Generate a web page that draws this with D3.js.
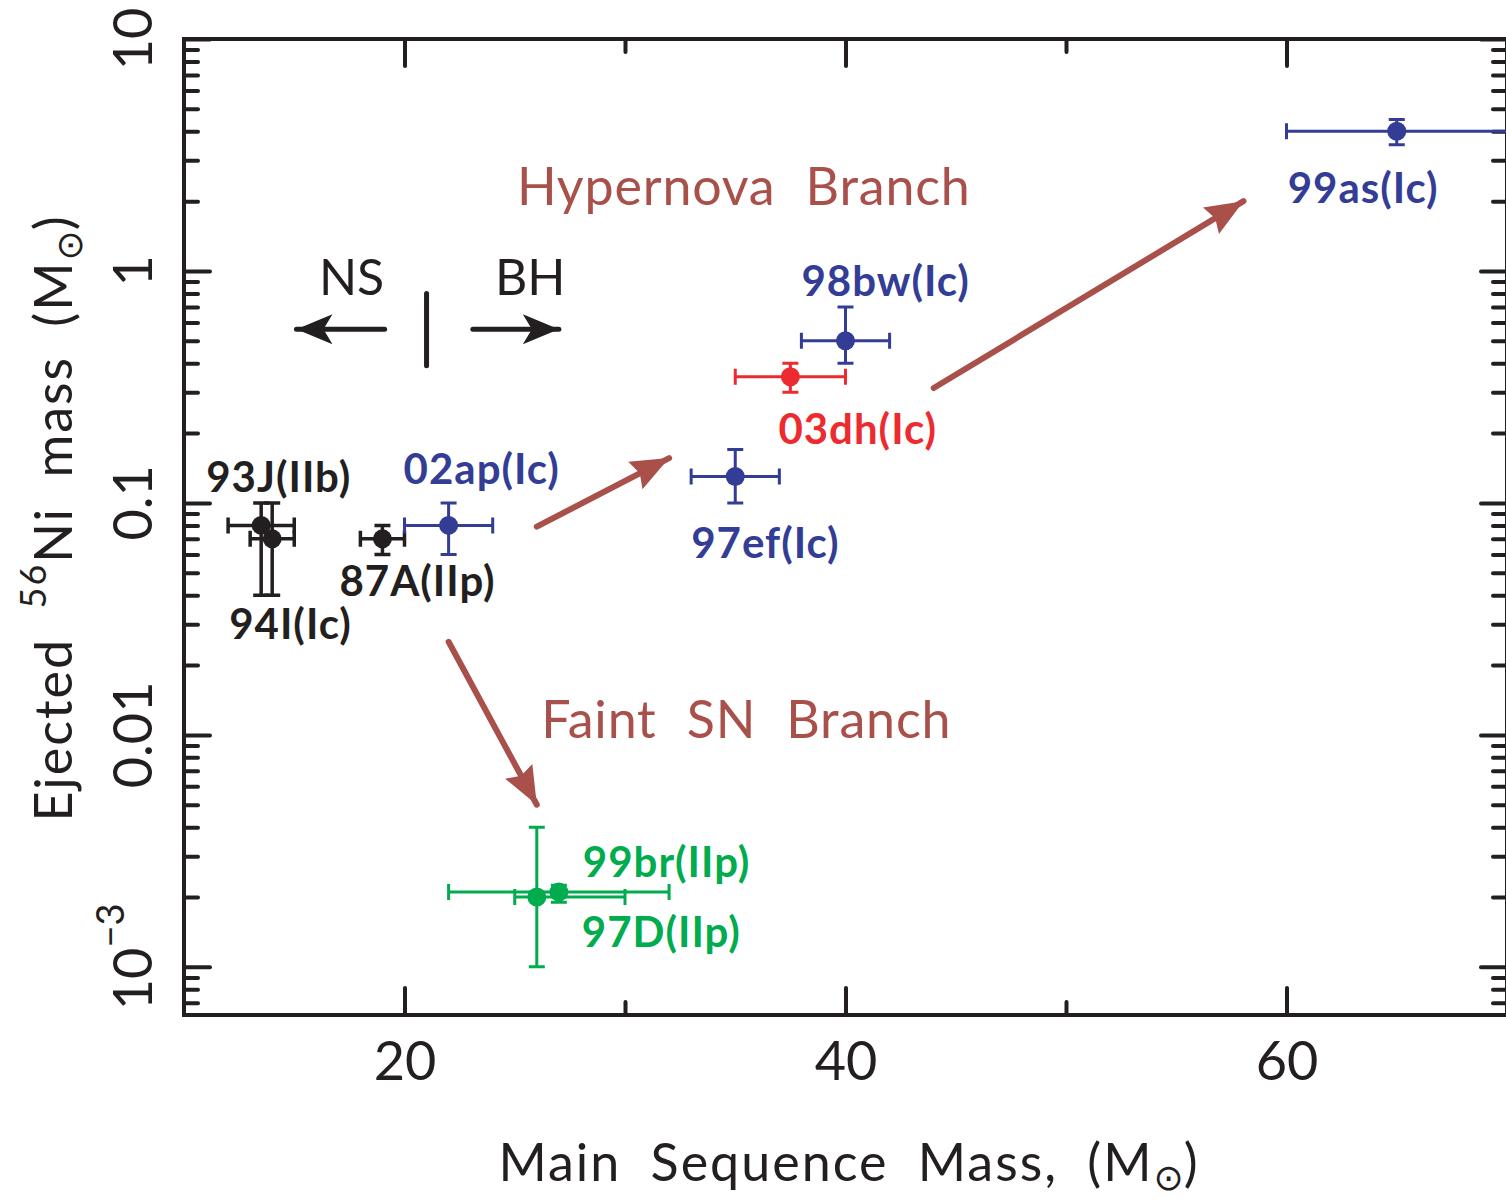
<!DOCTYPE html>
<html>
<head>
<meta charset="utf-8">
<script src="https://cdn.jsdelivr.net/npm/d3@7"></script>
<style>
  body { margin: 0; background: #fff; }
  svg { display: block; font-family: Lato, "DejaVu Sans", sans-serif; }
</style>
</head>
<body>
<svg width="1506" height="1201"></svg>
<script>
// supernova data
const names  = ["93J(IIb)", "94I(Ic)", "87A(IIp)", "02ap(Ic)", "97ef(Ic)", "03dh(Ic)", "98bw(Ic)", "99as(Ic)", "97D(IIp)", "99br(IIp)"];
const groups = ["normal", "normal", "normal", "hyper", "hyper", "dh", "hyper", "hyper", "faint", "faint"];
const mass   = [13.5, 14, 19, 22, 35, 37.5, 40, 65, 26, 27];
const massLo = [12, 13, 18, 20, 33, 35, 38, 60, 25, 22];
const massHi = [15, 15, 20, 24, 37, 40, 42, 75, 30, 32];
const ni     = [0.08, 0.07, 0.07, 0.08, 0.13, 0.35, 0.5, 4, 0.002, 0.0021];
const niLo   = [0.04, 0.04, 0.06, 0.06, 0.1, 0.3, 0.4, 3.5, 0.001, 0.0019];
const niHi   = [0.1, 0.1, 0.08, 0.1, 0.17, 0.4, 0.7, 4.5, 0.004, 0.00225];

// axis ticks
const xMajor = [20, 40, 60];
const xMinor = [30, 50, 70];
const yMajor = [10, 1, 0.1, 0.01, 0.001];
const yLabels = ["10", "1", "0.1", "0.01"];

// annotations (data coordinates)
const branchArrows = [[[26, 0.079], [32, 0.156]], [[44, 0.313], [58.05, 2.0]], [[22, 0.0252], [26, 0.005]]];
const branchText = [["Hypernova Branch", 25.1, 1.92], ["Faint SN Branch", 26.2, 0.0097]];
const nsbhDivide = [21, 0.39, 0.8];
const nsbhArrows = [[[19.1, 0.56], [15.1, 0.56]], [[23.1, 0.56], [27.0, 0.56]]];
const nsbhText = [["NS", 17.6, 0.79], ["BH", 25.7, 0.79]];

// label offsets in px from each point (start, baseline)
const labelOffset = {
    "93J(IIb)": [-55, -33], "94I(Ic)": [-43, 100], "87A(IIp)": [-43, 57], "02ap(Ic)": [-45, -41],
    "97ef(Ic)": [-44, 82], "03dh(Ic)": [-12, 67], "98bw(Ic)": [-44, -45], "99as(Ic)": [-109, 72],
    "97D(IIp)": [45, 50], "99br(IIp)": [24, -15]
};

const ink = "#231f20";
const branchColor = "#a9504b";
let color = d3.scaleOrdinal()
    .domain(["normal", "hyper", "dh", "faint"])
    .range([ink, "#333d96", "#ec2a2f", "#00ac4e"]);

let svg = d3.select("svg");
let pLeft = 184, pRight = 1507, pTop = 39, pBottom = 1015;

let x = d3.scaleLinear().domain([10, 70]).range([pLeft, pRight]);
let y = d3.scaleLog().domain([6.2e-4, 10]).range([pBottom, pTop]);

let yMinor = [];
[0.0001, 0.001, 0.01, 0.1, 1].forEach(dec => {
    for (let k = 2; k <= 9; k++) {
        let v = dec * k;
        if (v >= 6.2e-4 && v <= 10) yMinor.push(v);
    }
});

// ticks
const styleAxis = g => {
    g.select(".domain").remove();
    g.selectAll("line").attr("stroke", ink).attr("stroke-width", 4).attr("stroke-linecap", "round");
};
svg.append("g").attr("transform", "translate(0," + pBottom + ")")
    .call(d3.axisBottom(x).tickValues(xMajor).tickSize(-27).tickPadding(27).tickFormat(d3.format("d")))
    .call(styleAxis)
    .selectAll("text").attr("font-size", 54).attr("fill", ink).attr("font-family", "Lato");
svg.append("g").attr("transform", "translate(0," + pBottom + ")")
    .call(d3.axisBottom(x).tickValues(xMinor).tickSize(-13).tickFormat(""))
    .call(styleAxis);
svg.append("g").attr("transform", "translate(0," + pTop + ")")
    .call(d3.axisTop(x).tickValues(xMajor).tickSize(-27).tickFormat(""))
    .call(styleAxis);
svg.append("g").attr("transform", "translate(0," + pTop + ")")
    .call(d3.axisTop(x).tickValues(xMinor).tickSize(-13).tickFormat(""))
    .call(styleAxis);
svg.append("g").attr("transform", "translate(" + pLeft + ",0)")
    .call(d3.axisLeft(y).tickValues(yMajor).tickSize(-26).tickFormat(""))
    .call(styleAxis);
svg.append("g").attr("transform", "translate(" + pLeft + ",0)")
    .call(d3.axisLeft(y).tickValues(yMinor).tickSize(-14).tickFormat(""))
    .call(styleAxis);
svg.append("g").attr("transform", "translate(" + pRight + ",0)")
    .call(d3.axisRight(y).tickValues(yMajor).tickSize(-26).tickFormat(""))
    .call(styleAxis);
svg.append("g").attr("transform", "translate(" + pRight + ",0)")
    .call(d3.axisRight(y).tickValues(yMinor).tickSize(-14).tickFormat(""))
    .call(styleAxis);

// frame
svg.append("rect")
    .attr("x", pLeft).attr("y", pTop)
    .attr("width", pRight - pLeft).attr("height", pBottom - pTop)
    .attr("fill", "none").attr("stroke", ink).attr("stroke-width", 4);

// y tick labels, rotated
svg.selectAll("text.ylab")
    .data(yLabels)
    .join("text")
    .attr("class", "ylab")
    .attr("transform", (d, i) => "translate(152," + y(yMajor[i]) + ") rotate(-90)")
    .attr("text-anchor", "middle")
    .attr("font-size", 54)
    .attr("fill", ink)
    .text(d => d);
let t3 = svg.append("text")
    .attr("transform", "translate(152," + (y(0.001) - 10) + ") rotate(-90)")
    .attr("text-anchor", "middle")
    .attr("font-size", 54)
    .attr("fill", ink);
t3.append("tspan").text("10");
t3.append("tspan").attr("font-size", 38).attr("dy", -28).text("\u22123");

// axis titles
let xt = svg.append("text")
    .attr("x", 849).attr("y", 1181)
    .attr("text-anchor", "middle")
    .attr("font-size", 52)
    .attr("letter-spacing", 2)
    .attr("word-spacing", 14)
    .attr("fill", ink);
xt.append("tspan").text("Main Sequence Mass, (M");
xt.append("tspan").attr("font-family", "DejaVu Sans").attr("font-size", 36).attr("letter-spacing", 0).attr("dy", 9).text("\u2299");
xt.append("tspan").attr("dy", -9).text(")");

let yt = svg.append("text")
    .attr("transform", "translate(72,518) rotate(-90)")
    .attr("text-anchor", "middle")
    .attr("font-size", 52)
    .attr("letter-spacing", 2)
    .attr("word-spacing", 14)
    .attr("fill", ink);
yt.append("tspan").text("Ejected ");
yt.append("tspan").attr("font-size", 36).attr("dy", -26).text("56");
yt.append("tspan").attr("dy", 26).text("Ni mass (M");
yt.append("tspan").attr("font-family", "DejaVu Sans").attr("font-size", 36).attr("letter-spacing", 0).attr("dy", 10).text("\u2299");
yt.append("tspan").attr("dy", -10).text(")");

// arrowheads
let defs = svg.append("defs");
defs.append("marker")
    .attr("id", "headBranch")
    .attr("markerUnits", "userSpaceOnUse")
    .attr("viewBox", "-40 -16 42 32")
    .attr("markerWidth", 42).attr("markerHeight", 32)
    .attr("refX", 0).attr("refY", 0)
    .attr("orient", "auto")
    .append("path")
    .attr("d", "M0,0 L-38,-15.5 L-33,0 L-38,15.5 Z")
    .attr("fill", branchColor);
defs.append("marker")
    .attr("id", "headBlack")
    .attr("markerUnits", "userSpaceOnUse")
    .attr("viewBox", "-40 -16 42 32")
    .attr("markerWidth", 42).attr("markerHeight", 32)
    .attr("refX", 0).attr("refY", 0)
    .attr("orient", "auto")
    .append("path")
    .attr("d", "M0,0 L-36,-15 L-27,0 L-36,15 Z")
    .attr("fill", ink);

svg.selectAll("line.branch")
    .data(branchArrows)
    .join("line")
    .attr("class", "branch")
    .attr("x1", d => x(d[0][0])).attr("y1", d => y(d[0][1]))
    .attr("x2", d => x(d[1][0])).attr("y2", d => y(d[1][1]))
    .attr("stroke", branchColor)
    .attr("stroke-width", 6)
    .attr("stroke-linecap", "round")
    .attr("marker-end", "url(#headBranch)");

svg.selectAll("text.branch")
    .data(branchText)
    .join("text")
    .attr("class", "branch")
    .attr("x", d => x(d[1])).attr("y", d => y(d[2]))
    .attr("font-size", 52)
    .attr("word-spacing", 16)
    .attr("letter-spacing", 0.8)
    .attr("fill", branchColor)
    .text(d => d[0]);

// NS / BH divider
svg.append("line")
    .attr("x1", x(nsbhDivide[0])).attr("x2", x(nsbhDivide[0]))
    .attr("y1", y(nsbhDivide[1])).attr("y2", y(nsbhDivide[2]))
    .attr("stroke", ink).attr("stroke-width", 5).attr("stroke-linecap", "round");
svg.selectAll("line.nsbh")
    .data(nsbhArrows)
    .join("line")
    .attr("class", "nsbh")
    .attr("x1", d => x(d[0][0])).attr("y1", d => y(d[0][1]))
    .attr("x2", d => x(d[1][0])).attr("y2", d => y(d[1][1]))
    .attr("stroke", ink)
    .attr("stroke-width", 5)
    .attr("stroke-linecap", "round")
    .attr("marker-end", "url(#headBlack)");
svg.selectAll("text.nsbh")
    .data(nsbhText)
    .join("text")
    .attr("class", "nsbh")
    .attr("x", d => x(d[1])).attr("y", d => y(d[2]))
    .attr("text-anchor", "middle")
    .attr("font-size", 50)
    .attr("fill", ink)
    .text(d => d[0]);

// error bars and points
let idx = d3.range(names.length);
let pts = svg.append("g").selectAll("g")
    .data(idx)
    .join("g")
    .attr("stroke", i => color(groups[i]))
    .attr("fill", i => color(groups[i]))
    .attr("stroke-width", i => groups[i] === "normal" ? 3.5 : 3);

const cap = 8;
pts.append("path")
    .attr("fill", "none")
    .attr("d", i => {
        let cx = x(mass[i]), cy = y(ni[i]);
        let xl = x(massLo[i]), xh = x(massHi[i]);
        let yl = y(niLo[i]), yh = y(niHi[i]);
        return "M" + xl + "," + cy + "H" + xh +
            "M" + xl + "," + (cy - cap) + "V" + (cy + cap) +
            "M" + xh + "," + (cy - cap) + "V" + (cy + cap) +
            "M" + cx + "," + yl + "V" + yh +
            "M" + (cx - cap) + "," + yl + "H" + (cx + cap) +
            "M" + (cx - cap) + "," + yh + "H" + (cx + cap);
    });
pts.append("circle")
    .attr("cx", i => x(mass[i]))
    .attr("cy", i => y(ni[i]))
    .attr("r", 9.5)
    .attr("stroke", "none");

svg.selectAll("text.sn")
    .data(idx)
    .join("text")
    .attr("class", "sn")
    .attr("x", i => x(mass[i]) + labelOffset[names[i]][0])
    .attr("y", i => y(ni[i]) + labelOffset[names[i]][1])
    .attr("font-size", 42)
    .attr("font-weight", "bold")
    .attr("letter-spacing", 1)
    .attr("fill", i => color(groups[i]))
    .text(i => names[i]);
</script>
</body>
</html>
